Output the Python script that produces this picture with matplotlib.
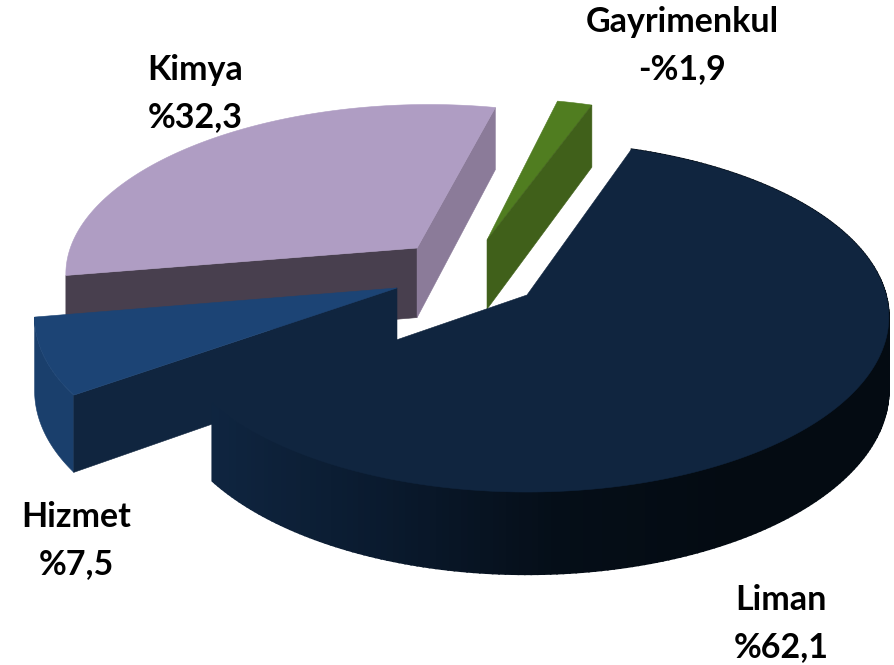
import numpy as np
import matplotlib
matplotlib.use('Agg')
import matplotlib.pyplot as plt
from matplotlib.colors import LinearSegmentedColormap

# clockwise order, starting at the far edge of Liman
names = ['Liman', 'Hizmet', 'Kimya', 'Gayrimenkul']
values = [62.1, 7.5, 32.3, -1.9]
labels = ['%62,1', '%7,5', '%32,3', '-%1,9']

top_colors = ['#10253f', '#1c4475', '#af9dc3', '#507d20']
arc_colors = [None, '#1a3f6c', None, None]
cut_start_colors = [None, '#10253f', '#483f4e', None]
cut_end_colors = [None, None, '#8b7b99', '#40601a']

explode_u = [0.0, -0.364, -0.317, -0.116]
explode_v = [0.0, 0.041, 0.282, 0.332]

label_x = [781, 76, 195, 682]
label_y = [610, 527, 80, 32]
line_gap = 47

# pixel layout of the tilted pie
cx, cy = 527, 295
rad_x, rad_y = 359, 172.4
persp = 0.125
wall = 72
start_angle = 71.0

shade = LinearSegmentedColormap.from_list('liman', ['#0f2540', '#0a1a2e', '#050e18', '#040b12'])


def project(u, v):
    s = 1 + persp * v
    return cx + rad_x * u / s, cy - rad_y * v / s


def wall_offset(v):
    return wall / (1 + persp * v)


def arc_points(du, dv, a0, a1, n=240):
    a = np.radians(np.linspace(a0, a1, n))
    return du + np.cos(a), dv + np.sin(a)


def side(ax, u, v, color, zorder, lw=0.4):
    x, y = project(u, v)
    h = wall_offset(v)
    ax.fill(np.r_[x, x[::-1]], np.r_[y, (y + h)[::-1]], color=color, lw=lw, zorder=zorder)


fig = plt.figure(figsize=(8.95, 6.65), dpi=100)
ax = fig.add_axes([0, 0, 1, 1])
ax.set_xlim(0, 895)
ax.set_ylim(665, 0)
ax.axis('off')

total = sum(abs(v) for v in values)
angle = start_angle
edges = []
for val in values:
    sweep = abs(val) / total * 360
    edges.append((angle, angle - sweep))
    angle -= sweep

# draw far slices first, Liman last
for i in [2, 3, 1, 0]:
    a0, a1 = edges[i]
    du, dv = explode_u[i], explode_v[i]
    z = [8, 2, 1, 3][i]
    au, av = arc_points(du, dv, a0, a1)

    if arc_colors[i]:
        side(ax, au, av, arc_colors[i], z)
    if cut_start_colors[i]:
        side(ax, np.array([du, au[0]]), np.array([dv, av[0]]), cut_start_colors[i], z + 0.1)
    if cut_end_colors[i]:
        side(ax, np.array([du, au[-1]]), np.array([dv, av[-1]]), cut_end_colors[i], z + 0.1)
    if names[i] == 'Liman':
        # outer wall shaded in thin strips
        for j in range(len(au) - 1):
            px, _ = project(au[j], av[j])
            side(ax, au[j:j + 2], av[j:j + 2], shade(np.clip((px - 213) / 520, 0, 1)), z, lw=1.2)

    x, y = project(np.r_[du, au], np.r_[dv, av])
    ax.fill(x, y, color=top_colors[i], lw=0.4, zorder=z + (0.2 if names[i] != 'Gayrimenkul' else 0))

for i in range(len(names)):
    ax.text(label_x[i], label_y[i], names[i], ha='center', va='baseline', family='Lato',
            weight='bold', fontsize=24.5, color='black', zorder=20)
    ax.text(label_x[i], label_y[i] + line_gap, labels[i], ha='center', va='baseline', family='Lato',
            weight='bold', fontsize=24.5, color='black', zorder=20)

fig.savefig('out.png', dpi=100, facecolor='white')
